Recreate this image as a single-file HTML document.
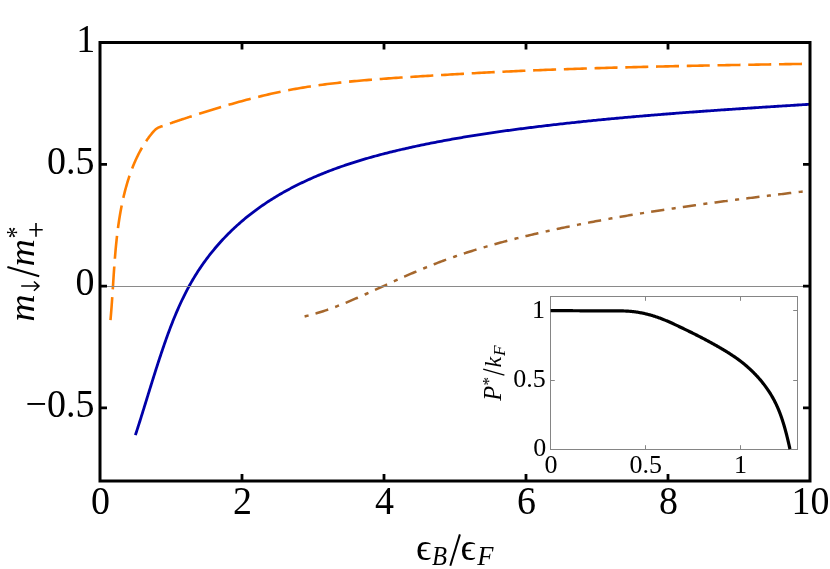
<!DOCTYPE html>
<html><head><meta charset="utf-8"><title>plot</title>
<style>html,body{margin:0;padding:0;background:#fff;}svg{display:block;will-change:transform;}</style>
</head><body>
<svg width="830" height="569" viewBox="0 0 830 569">
<rect width="830" height="569" fill="#fff"/>
<path d="M110.48,320.08 L110.57,319.10 L110.66,318.11 L110.74,317.13 L110.83,316.15 L110.91,315.16 L111.00,314.17 L111.08,313.18 L111.16,312.19 L111.24,311.20 L111.31,310.21 L111.39,309.22 L111.47,308.22 L111.54,307.23 L111.62,306.23 L111.69,305.23 L111.76,304.23 L111.83,303.23 L111.91,302.23 L111.98,301.23 L112.05,300.23 L112.11,299.23 L112.18,298.22 L112.25,297.22 L112.32,296.21 L112.39,295.21 L112.45,294.20 L112.52,293.19 L112.59,292.18 L112.65,291.17 L112.72,290.16 L112.78,289.15 L112.85,288.14 L112.91,287.13 L112.98,286.12 L113.04,285.10 L113.11,284.09 L113.17,283.07 L113.24,282.06 L113.30,281.04 L113.37,280.03 L113.44,279.01 L113.50,277.99 L113.57,276.98 L113.64,275.96 L113.70,274.94 L113.77,273.92 L113.84,272.90 L113.91,271.89 L113.98,270.87 L114.05,269.85 L114.12,268.83 L114.19,267.81 L114.26,266.79 L114.34,265.77 L114.41,264.74 L114.48,263.72 L114.56,262.70 L114.64,261.68 L114.71,260.66 L114.79,259.64 L114.87,258.62 L114.95,257.60 L115.04,256.57 L115.12,255.55 L115.20,254.53 L115.29,253.51 L115.38,252.49 L115.47,251.47 L115.56,250.45 L115.65,249.43 L115.74,248.40 L115.84,247.38 L115.93,246.36 L116.03,245.34 L116.13,244.32 L116.23,243.30 L116.34,242.28 L116.44,241.27 L116.55,240.25 L116.66,239.23 L116.77,238.21 L116.88,237.19 L116.99,236.17 L117.11,235.16 L117.23,234.14 L117.35,233.13 L117.48,232.11 L117.60,231.10 L117.73,230.08 L117.86,229.07 L117.99,228.05 L118.13,227.04 L118.26,226.03 L118.40,225.02 L118.55,224.01 L118.69,223.00 L118.84,221.99 L118.99,220.98 L119.14,219.97 L119.30,218.96 L119.46,217.96 L119.62,216.95 L119.79,215.95 L119.95,214.94 L120.12,213.94 L120.30,212.94 L120.47,211.93 L120.65,210.93 L120.84,209.93 L121.02,208.94 L121.21,207.94 L121.40,206.94 L121.60,205.95 L121.80,204.95 L122.00,203.96 L122.21,202.97 L122.42,201.97 L122.63,200.98 L122.85,200.00 L123.07,199.01 L123.29,198.02 L123.52,197.04 L123.75,196.05 L123.98,195.07 L124.22,194.09 L124.47,193.11 L124.71,192.13 L124.96,191.15 L125.22,190.17 L125.48,189.20 L125.74,188.23 L126.01,187.25 L126.28,186.28 L126.55,185.31 L126.83,184.35 L127.12,183.38 L127.40,182.42 L127.70,181.45 L127.99,180.49 L128.30,179.53 L128.60,178.57 L128.91,177.62 L129.23,176.66 L129.55,175.71 L129.87,174.76 L130.20,173.81 L130.53,172.86 L130.87,171.91 L131.22,170.97 L131.57,170.03 L131.92,169.09 L132.28,168.15 L132.65,167.21 L133.02,166.28 L133.39,165.35 L133.77,164.42 L134.16,163.50 L134.55,162.58 L134.95,161.66 L135.36,160.74 L135.77,159.83 L136.18,158.92 L136.61,158.01 L137.04,157.10 L137.47,156.20 L137.91,155.31 L138.36,154.41 L138.81,153.52 L139.28,152.63 L139.74,151.75 L140.22,150.87 L140.70,150.00 L141.19,149.12 L141.69,148.26 L142.19,147.39 L142.70,146.53 L143.22,145.68 L143.74,144.83 L144.27,143.98 L144.81,143.14 L145.36,142.30 L145.91,141.47 L146.48,140.64 L147.05,139.82 L147.62,139.00 L148.21,138.19 L148.81,137.38 L149.41,136.57 L150.02,135.78 L150.64,134.98 L151.27,134.20 L151.90,133.41 L152.55,132.64 L153.20,131.87 L153.86,131.10 L154.36,130.57 L154.88,130.07 L155.40,129.60 L155.93,129.16 L156.47,128.75 L157.03,128.37 L157.59,128.03 L158.16,127.71 L158.74,127.42 L159.34,127.17 L159.94,126.94 L161.05,126.55 L162.16,126.17 L163.28,125.78 L164.39,125.40 L165.50,125.02 L166.62,124.64 L167.73,124.25 L168.84,123.87 L169.95,123.49 L171.07,123.11 L172.18,122.73 L173.29,122.35 L174.41,121.98 L175.52,121.60 L176.63,121.22 L177.74,120.85 L178.86,120.47 L179.97,120.10 L181.08,119.73 L182.19,119.35 L183.31,118.98 L184.42,118.61 L185.53,118.24 L186.65,117.87 L187.76,117.51 L188.87,117.14 L189.98,116.78 L191.10,116.41 L192.21,116.05 L193.32,115.68 L194.44,115.32 L195.55,114.96 L196.66,114.60 L197.77,114.25 L198.89,113.89 L200.00,113.53 L202.45,112.75 L204.90,111.98 L207.35,111.21 L209.80,110.45 L212.25,109.69 L214.70,108.94 L217.15,108.20 L219.60,107.46 L222.05,106.73 L224.50,106.01 L226.95,105.29 L229.40,104.58 L231.85,103.88 L234.30,103.19 L236.75,102.50 L239.20,101.83 L241.65,101.16 L244.10,100.50 L246.55,99.85 L249.00,99.20 L251.45,98.57 L253.90,97.94 L256.35,97.33 L258.80,96.72 L261.24,96.12 L263.69,95.54 L266.14,94.96 L268.59,94.39 L271.04,93.84 L273.49,93.29 L275.94,92.76 L278.39,92.23 L280.84,91.72 L283.29,91.22 L285.74,90.73 L288.19,90.25 L290.64,89.79 L293.09,89.33 L295.54,88.89 L297.99,88.46 L300.44,88.04 L302.89,87.63 L305.34,87.23 L307.79,86.84 L310.24,86.46 L312.69,86.09 L315.14,85.73 L317.59,85.38 L320.04,85.05 L322.49,84.72 L324.94,84.39 L327.39,84.08 L329.84,83.78 L332.29,83.48 L334.74,83.20 L337.19,82.92 L339.64,82.64 L342.09,82.38 L344.54,82.12 L346.99,81.87 L349.44,81.63 L351.89,81.39 L354.34,81.16 L356.79,80.93 L359.24,80.71 L361.69,80.50 L364.14,80.29 L366.59,80.08 L369.04,79.88 L371.49,79.69 L373.94,79.49 L376.39,79.31 L378.84,79.12 L381.29,78.94 L383.73,78.76 L386.18,78.58 L388.63,78.40 L391.08,78.23 L393.53,78.06 L395.98,77.89 L398.43,77.73 L400.88,77.56 L403.33,77.40 L405.78,77.24 L408.23,77.08 L410.68,76.93 L413.13,76.77 L415.58,76.61 L418.03,76.46 L420.48,76.31 L422.93,76.16 L425.38,76.01 L427.83,75.86 L430.28,75.71 L432.73,75.56 L435.18,75.42 L437.63,75.27 L440.08,75.13 L442.53,74.98 L444.98,74.84 L447.43,74.70 L449.88,74.56 L452.33,74.42 L454.78,74.28 L457.23,74.14 L459.68,74.00 L462.13,73.86 L464.58,73.73 L467.03,73.59 L469.48,73.46 L471.93,73.32 L474.38,73.19 L476.83,73.06 L479.28,72.92 L481.73,72.79 L484.18,72.67 L486.63,72.54 L489.08,72.41 L491.53,72.29 L493.98,72.16 L496.43,72.04 L498.88,71.92 L501.33,71.80 L503.78,71.68 L506.22,71.56 L508.67,71.45 L511.12,71.33 L513.57,71.22 L516.02,71.11 L518.47,71.00 L520.92,70.89 L523.37,70.79 L525.82,70.68 L528.27,70.58 L530.72,70.48 L533.17,70.37 L535.62,70.27 L538.07,70.18 L540.52,70.08 L542.97,69.98 L545.42,69.89 L547.87,69.80 L550.32,69.70 L552.77,69.61 L555.22,69.52 L557.67,69.44 L560.12,69.35 L562.57,69.26 L565.02,69.18 L567.47,69.09 L569.92,69.01 L572.37,68.93 L574.82,68.85 L577.27,68.77 L579.72,68.69 L582.17,68.61 L584.62,68.53 L587.07,68.45 L589.52,68.38 L591.97,68.30 L594.42,68.23 L596.87,68.16 L599.32,68.08 L601.77,68.01 L604.22,67.94 L606.67,67.87 L609.12,67.80 L611.57,67.73 L614.02,67.66 L616.47,67.60 L618.92,67.53 L621.37,67.46 L623.82,67.40 L626.27,67.33 L628.71,67.27 L631.16,67.21 L633.61,67.14 L636.06,67.08 L638.51,67.02 L640.96,66.96 L643.41,66.90 L645.86,66.84 L648.31,66.78 L650.76,66.72 L653.21,66.66 L655.66,66.61 L658.11,66.55 L660.56,66.49 L663.01,66.44 L665.46,66.38 L667.91,66.33 L670.36,66.27 L672.81,66.22 L675.26,66.17 L677.71,66.11 L680.16,66.06 L682.61,66.01 L685.06,65.96 L687.51,65.91 L689.96,65.86 L692.41,65.81 L694.86,65.76 L697.31,65.71 L699.76,65.66 L702.21,65.61 L704.66,65.56 L707.11,65.52 L709.56,65.47 L712.01,65.42 L714.46,65.38 L716.91,65.33 L719.36,65.29 L721.81,65.24 L724.26,65.20 L726.71,65.15 L729.16,65.11 L731.61,65.06 L734.06,65.02 L736.51,64.98 L738.96,64.93 L741.41,64.89 L743.86,64.85 L746.31,64.81 L748.76,64.77 L751.20,64.72 L753.65,64.68 L756.10,64.64 L758.55,64.60 L761.00,64.56 L763.45,64.52 L765.90,64.48 L768.35,64.44 L770.80,64.40 L773.25,64.36 L775.70,64.32 L778.15,64.29 L780.60,64.25 L783.05,64.21 L785.50,64.17 L787.95,64.13 L790.40,64.09 L792.85,64.06 L795.30,64.02 L797.75,63.98 L800.20,63.94 L802.65,63.91 L805.10,63.87 L807.55,63.83 L810.00,63.80" fill="none" stroke="#FF7F00" stroke-width="2.6" stroke-linejoin="round" stroke-dasharray="23 7.74"/>
<path d="M135.40,435.09 L135.91,433.53 L136.42,431.96 L136.93,430.40 L137.43,428.83 L137.94,427.26 L138.44,425.68 L138.94,424.11 L139.44,422.53 L139.94,420.96 L140.44,419.38 L140.94,417.80 L141.43,416.21 L141.93,414.63 L142.42,413.05 L142.91,411.46 L143.41,409.88 L143.90,408.29 L144.39,406.70 L144.88,405.11 L145.37,403.52 L145.87,401.93 L146.36,400.34 L146.85,398.74 L147.34,397.15 L147.83,395.56 L148.32,393.96 L148.82,392.37 L149.31,390.77 L149.80,389.18 L150.30,387.58 L150.79,385.99 L151.29,384.39 L151.78,382.79 L152.28,381.20 L152.78,379.60 L153.28,378.00 L153.78,376.41 L154.28,374.81 L154.79,373.22 L155.29,371.62 L155.80,370.03 L156.31,368.43 L156.82,366.84 L157.33,365.24 L157.85,363.65 L158.37,362.06 L158.88,360.46 L159.41,358.87 L159.93,357.28 L160.46,355.69 L160.98,354.10 L161.51,352.52 L162.05,350.93 L162.59,349.34 L163.13,347.76 L163.67,346.18 L164.21,344.59 L164.76,343.01 L165.32,341.43 L165.87,339.86 L166.43,338.28 L167.00,336.71 L167.57,335.14 L168.14,333.57 L168.72,332.00 L169.30,330.44 L169.89,328.87 L170.48,327.31 L171.08,325.75 L171.68,324.20 L172.29,322.65 L172.90,321.10 L173.52,319.55 L174.15,318.01 L174.78,316.47 L175.42,314.93 L176.06,313.40 L176.71,311.87 L177.37,310.34 L178.04,308.82 L178.71,307.30 L179.39,305.79 L180.08,304.28 L180.77,302.77 L181.47,301.27 L182.18,299.77 L182.90,298.27 L183.63,296.79 L184.36,295.30 L185.11,293.82 L185.86,292.35 L186.62,290.87 L187.39,289.41 L188.17,287.95 L188.96,286.49 L189.76,285.04 L190.56,283.60 L191.38,282.16 L192.21,280.73 L193.04,279.30 L193.89,277.88 L194.74,276.46 L195.61,275.06 L196.49,273.65 L197.37,272.25 L198.27,270.86 L199.17,269.48 L200.09,268.10 L201.02,266.73 L201.96,265.37 L202.91,264.01 L203.86,262.66 L204.83,261.31 L205.81,259.97 L206.80,258.64 L207.80,257.32 L208.80,256.00 L209.82,254.69 L210.85,253.39 L211.89,252.10 L212.93,250.81 L213.99,249.53 L215.05,248.26 L216.13,246.99 L217.21,245.73 L218.30,244.48 L219.40,243.24 L220.51,242.00 L221.63,240.78 L222.76,239.56 L223.90,238.35 L225.04,237.14 L226.20,235.95 L227.36,234.76 L228.53,233.58 L229.71,232.41 L230.90,231.24 L232.10,230.09 L233.30,228.94 L234.52,227.80 L235.74,226.67 L236.96,225.55 L238.20,224.44 L239.45,223.33 L240.70,222.24 L241.96,221.15 L243.23,220.07 L244.50,219.00 L245.78,217.94 L247.07,216.89 L248.37,215.85 L249.68,214.82 L250.99,213.79 L252.31,212.78 L253.63,211.77 L254.96,210.77 L256.30,209.78 L257.65,208.81 L259.00,207.83 L260.36,206.87 L261.73,205.92 L263.10,204.98 L264.48,204.04 L265.86,203.11 L267.25,202.20 L268.65,201.29 L270.05,200.39 L271.46,199.49 L272.87,198.61 L274.29,197.73 L275.71,196.87 L277.14,196.01 L278.58,195.16 L280.02,194.31 L281.46,193.48 L282.91,192.65 L284.36,191.83 L285.82,191.02 L287.29,190.22 L288.76,189.43 L290.23,188.64 L291.71,187.86 L293.19,187.09 L294.67,186.33 L296.16,185.57 L297.65,184.82 L299.15,184.08 L300.65,183.35 L302.15,182.63 L303.66,181.91 L305.17,181.20 L306.69,180.49 L308.21,179.80 L309.73,179.11 L311.25,178.43 L312.78,177.76 L314.31,177.09 L315.84,176.43 L317.37,175.78 L318.91,175.13 L320.45,174.49 L321.99,173.86 L323.54,173.23 L325.08,172.62 L326.63,172.00 L328.18,171.40 L329.74,170.80 L331.29,170.21 L332.85,169.62 L334.41,169.05 L335.97,168.47 L337.53,167.91 L339.10,167.35 L340.67,166.79 L342.24,166.24 L343.81,165.70 L345.38,165.16 L346.96,164.63 L348.53,164.11 L350.11,163.59 L351.69,163.07 L353.27,162.56 L354.86,162.06 L356.44,161.56 L358.03,161.07 L359.62,160.58 L361.21,160.10 L362.80,159.62 L364.40,159.15 L365.99,158.69 L367.59,158.22 L369.18,157.77 L370.78,157.31 L372.38,156.86 L373.99,156.42 L375.59,155.98 L377.19,155.55 L378.80,155.12 L380.41,154.69 L382.01,154.27 L383.62,153.85 L385.23,153.44 L386.85,153.03 L388.46,152.62 L390.07,152.22 L391.69,151.82 L393.30,151.43 L394.92,151.03 L396.54,150.65 L398.15,150.26 L399.77,149.88 L401.39,149.51 L403.01,149.13 L404.64,148.76 L406.26,148.39 L407.88,148.03 L409.50,147.67 L411.13,147.31 L412.75,146.96 L414.38,146.60 L416.01,146.25 L417.63,145.91 L419.26,145.56 L420.89,145.22 L422.52,144.88 L424.14,144.55 L425.77,144.21 L427.40,143.88 L429.04,143.55 L430.67,143.23 L432.30,142.91 L433.93,142.59 L435.56,142.27 L437.20,141.95 L438.83,141.64 L440.47,141.33 L442.10,141.02 L443.74,140.72 L445.37,140.42 L447.01,140.12 L448.65,139.82 L450.28,139.52 L451.92,139.23 L453.56,138.94 L455.20,138.65 L456.84,138.37 L458.48,138.08 L460.12,137.80 L461.76,137.52 L463.40,137.24 L465.04,136.97 L466.68,136.70 L468.32,136.42 L469.97,136.16 L471.61,135.89 L473.25,135.63 L474.90,135.36 L476.54,135.10 L478.18,134.84 L479.83,134.59 L481.47,134.33 L483.12,134.08 L484.77,133.83 L486.41,133.58 L488.06,133.33 L489.70,133.09 L491.35,132.85 L493.00,132.60 L494.65,132.36 L496.29,132.13 L497.94,131.89 L499.59,131.65 L501.24,131.42 L502.89,131.19 L504.54,130.96 L506.19,130.73 L507.83,130.51 L509.48,130.28 L511.13,130.06 L512.78,129.84 L514.43,129.62 L516.09,129.40 L517.74,129.18 L519.39,128.96 L521.04,128.75 L522.69,128.53 L524.34,128.32 L525.99,128.11 L527.64,127.90 L529.30,127.69 L530.95,127.49 L532.60,127.28 L534.25,127.08 L535.90,126.88 L537.56,126.67 L539.21,126.47 L540.86,126.27 L542.51,126.07 L544.17,125.88 L545.82,125.68 L547.47,125.49 L549.13,125.29 L550.78,125.10 L552.43,124.91 L554.09,124.72 L555.74,124.53 L557.39,124.34 L559.05,124.15 L560.70,123.97 L562.35,123.78 L564.01,123.60 L565.66,123.42 L567.32,123.23 L568.97,123.05 L570.63,122.87 L572.28,122.69 L573.93,122.52 L575.59,122.34 L577.24,122.17 L578.90,121.99 L580.55,121.82 L582.21,121.64 L583.86,121.47 L585.52,121.30 L587.17,121.13 L588.83,120.96 L590.49,120.80 L592.14,120.63 L593.80,120.46 L595.45,120.30 L597.11,120.14 L598.76,119.97 L600.42,119.81 L602.08,119.65 L603.73,119.49 L605.39,119.33 L607.04,119.17 L608.70,119.01 L610.36,118.86 L612.01,118.70 L613.67,118.55 L615.33,118.39 L616.98,118.24 L618.64,118.09 L620.30,117.93 L621.95,117.78 L623.61,117.63 L625.27,117.48 L626.93,117.34 L628.58,117.19 L630.24,117.04 L631.90,116.90 L633.56,116.75 L635.21,116.61 L636.87,116.46 L638.53,116.32 L640.19,116.18 L641.84,116.04 L643.50,115.89 L645.16,115.75 L646.82,115.62 L648.48,115.48 L650.13,115.34 L651.79,115.20 L653.45,115.07 L655.11,114.93 L656.77,114.79 L658.42,114.66 L660.08,114.53 L661.74,114.39 L663.40,114.26 L665.06,114.13 L666.72,114.00 L668.38,113.87 L670.04,113.74 L671.69,113.61 L673.35,113.48 L675.01,113.35 L676.67,113.22 L678.33,113.10 L679.99,112.97 L681.65,112.84 L683.31,112.72 L684.97,112.59 L686.63,112.47 L688.29,112.35 L689.94,112.22 L691.60,112.10 L693.26,111.98 L694.92,111.86 L696.58,111.73 L698.24,111.61 L699.90,111.49 L701.56,111.37 L703.22,111.26 L704.88,111.14 L706.54,111.02 L708.20,110.90 L709.86,110.78 L711.52,110.67 L713.18,110.55 L714.84,110.43 L716.50,110.32 L718.16,110.20 L719.82,110.09 L721.48,109.97 L723.14,109.86 L724.80,109.75 L726.46,109.63 L728.12,109.52 L729.78,109.41 L731.44,109.30 L733.10,109.18 L734.76,109.07 L736.42,108.96 L738.08,108.85 L739.74,108.74 L741.41,108.63 L743.07,108.52 L744.73,108.41 L746.39,108.30 L748.05,108.19 L749.71,108.08 L751.37,107.98 L753.03,107.87 L754.69,107.76 L756.35,107.65 L758.01,107.55 L759.67,107.44 L761.33,107.33 L762.99,107.22 L764.65,107.12 L766.32,107.01 L767.98,106.91 L769.64,106.80 L771.30,106.69 L772.96,106.59 L774.62,106.48 L776.28,106.38 L777.94,106.27 L779.60,106.17 L781.26,106.06 L782.92,105.96 L784.59,105.85 L786.25,105.75 L787.91,105.65 L789.57,105.54 L791.23,105.44 L792.89,105.33 L794.55,105.23 L796.21,105.13 L797.87,105.02 L799.53,104.92 L801.20,104.82 L802.86,104.71 L804.52,104.61 L806.18,104.51 L807.84,104.40 L809.50,104.30" fill="none" stroke="#0000A8" stroke-width="2.8"/>
<path d="M304.60,316.42 L306.29,316.02 L307.98,315.61 L309.67,315.19 L311.36,314.74 L313.05,314.28 L314.74,313.81 L316.43,313.32 L318.12,312.81 L319.81,312.29 L321.50,311.75 L323.19,311.20 L324.88,310.64 L326.57,310.07 L328.26,309.48 L329.95,308.88 L331.64,308.27 L333.34,307.64 L335.03,307.01 L336.72,306.37 L338.41,305.71 L340.10,305.05 L341.79,304.38 L343.48,303.69 L345.17,303.00 L346.86,302.31 L348.55,301.60 L350.24,300.89 L351.93,300.17 L353.62,299.45 L355.31,298.72 L357.00,297.98 L358.69,297.24 L360.38,296.50 L362.07,295.75 L363.76,295.00 L365.45,294.24 L367.14,293.49 L368.83,292.73 L370.52,291.97 L372.21,291.20 L373.90,290.44 L375.59,289.67 L377.28,288.90 L378.97,288.14 L380.66,287.37 L382.35,286.60 L384.04,285.83 L385.73,285.06 L387.42,284.29 L389.12,283.53 L390.81,282.76 L392.50,281.99 L394.19,281.23 L395.88,280.47 L397.57,279.71 L399.26,278.95 L400.95,278.19 L402.64,277.44 L404.33,276.69 L406.02,275.94 L407.71,275.20 L409.40,274.46 L411.09,273.72 L412.78,272.99 L414.47,272.26 L416.16,271.54 L417.85,270.82 L419.54,270.11 L421.23,269.40 L422.92,268.70 L424.61,268.00 L426.30,267.31 L427.99,266.63 L429.68,265.95 L431.37,265.28 L433.06,264.61 L434.75,263.96 L436.44,263.30 L438.13,262.66 L439.82,262.02 L441.51,261.38 L443.20,260.76 L444.89,260.13 L446.59,259.52 L448.28,258.91 L449.97,258.30 L451.66,257.71 L453.35,257.11 L455.04,256.52 L456.73,255.94 L458.42,255.37 L460.11,254.80 L461.80,254.23 L463.49,253.67 L465.18,253.11 L466.87,252.56 L468.56,252.02 L470.25,251.48 L471.94,250.94 L473.63,250.41 L475.32,249.89 L477.01,249.37 L478.70,248.85 L480.39,248.34 L482.08,247.83 L483.77,247.33 L485.46,246.83 L487.15,246.34 L488.84,245.85 L490.53,245.36 L492.22,244.88 L493.91,244.41 L495.60,243.94 L497.29,243.47 L498.98,243.00 L500.67,242.54 L502.37,242.09 L504.06,241.63 L505.75,241.19 L507.44,240.74 L509.13,240.30 L510.82,239.86 L512.51,239.43 L514.20,239.00 L515.89,238.57 L517.58,238.14 L519.27,237.72 L520.96,237.31 L522.65,236.89 L524.34,236.48 L526.03,236.07 L527.72,235.67 L529.41,235.26 L531.10,234.86 L532.79,234.47 L534.48,234.07 L536.17,233.68 L537.86,233.29 L539.55,232.90 L541.24,232.52 L542.93,232.14 L544.62,231.76 L546.31,231.38 L548.00,231.01 L549.69,230.64 L551.38,230.26 L553.07,229.90 L554.76,229.53 L556.45,229.17 L558.15,228.80 L559.84,228.45 L561.53,228.09 L563.22,227.73 L564.91,227.38 L566.60,227.03 L568.29,226.68 L569.98,226.33 L571.67,225.99 L573.36,225.64 L575.05,225.30 L576.74,224.96 L578.43,224.62 L580.12,224.29 L581.81,223.95 L583.50,223.62 L585.19,223.29 L586.88,222.97 L588.57,222.64 L590.26,222.31 L591.95,221.99 L593.64,221.67 L595.33,221.35 L597.02,221.04 L598.71,220.72 L600.40,220.41 L602.09,220.10 L603.78,219.79 L605.47,219.48 L607.16,219.17 L608.85,218.87 L610.54,218.56 L612.23,218.26 L613.93,217.96 L615.62,217.67 L617.31,217.37 L619.00,217.07 L620.69,216.78 L622.38,216.49 L624.07,216.20 L625.76,215.91 L627.45,215.62 L629.14,215.34 L630.83,215.05 L632.52,214.77 L634.21,214.49 L635.90,214.21 L637.59,213.93 L639.28,213.66 L640.97,213.38 L642.66,213.11 L644.35,212.84 L646.04,212.56 L647.73,212.29 L649.42,212.03 L651.11,211.76 L652.80,211.49 L654.49,211.23 L656.18,210.97 L657.87,210.71 L659.56,210.44 L661.25,210.19 L662.94,209.93 L664.63,209.67 L666.32,209.42 L668.01,209.16 L669.71,208.91 L671.40,208.66 L673.09,208.41 L674.78,208.16 L676.47,207.91 L678.16,207.66 L679.85,207.41 L681.54,207.17 L683.23,206.92 L684.92,206.68 L686.61,206.44 L688.30,206.20 L689.99,205.96 L691.68,205.72 L693.37,205.48 L695.06,205.25 L696.75,205.01 L698.44,204.77 L700.13,204.54 L701.82,204.31 L703.51,204.07 L705.20,203.84 L706.89,203.61 L708.58,203.38 L710.27,203.15 L711.96,202.93 L713.65,202.70 L715.34,202.47 L717.03,202.25 L718.72,202.02 L720.41,201.80 L722.10,201.58 L723.79,201.35 L725.48,201.13 L727.18,200.91 L728.87,200.69 L730.56,200.47 L732.25,200.25 L733.94,200.03 L735.63,199.81 L737.32,199.60 L739.01,199.38 L740.70,199.16 L742.39,198.95 L744.08,198.73 L745.77,198.52 L747.46,198.31 L749.15,198.09 L750.84,197.88 L752.53,197.67 L754.22,197.46 L755.91,197.24 L757.60,197.03 L759.29,196.82 L760.98,196.61 L762.67,196.40 L764.36,196.19 L766.05,195.99 L767.74,195.78 L769.43,195.57 L771.12,195.36 L772.81,195.15 L774.50,194.95 L776.19,194.74 L777.88,194.53 L779.57,194.33 L781.26,194.12 L782.96,193.91 L784.65,193.71 L786.34,193.50 L788.03,193.30 L789.72,193.09 L791.41,192.89 L793.10,192.68 L794.79,192.48 L796.48,192.28 L798.17,192.07 L799.86,191.87 L801.55,191.66 L803.24,191.46 L804.93,191.25 L806.62,191.05 L808.31,190.85 L810.00,190.64" fill="none" stroke="#A5672D" stroke-width="2.5" stroke-dasharray="4.1 7.2 13.3 7.42"/>
<line x1="100.0" y1="286.5" x2="810.0" y2="286.5" stroke="#8a8a8a" stroke-width="1"/>
<rect x="100.0" y="42.5" width="710.0" height="438.5" fill="none" stroke="#000" stroke-width="3"/>
<path d="M242.00,481.0 v-7.0 M242.00,42.5 v7.0 M384.00,481.0 v-7.0 M384.00,42.5 v7.0 M526.00,481.0 v-7.0 M526.00,42.5 v7.0 M668.00,481.0 v-7.0 M668.00,42.5 v7.0 M100.0,164.31 h7.0 M810.0,164.31 h-7.0 M100.0,286.11 h7.0 M810.0,286.11 h-7.0 M100.0,407.92 h7.0 M810.0,407.92 h-7.0" stroke="#000" stroke-width="2.8" fill="none"/>
<g font-family="'Liberation Serif', serif" font-size="38" fill="#000">
<text x="100.40" y="513.7" text-anchor="middle" transform="translate(0,513.7) scale(1,1.035) translate(0,-513.7)">0</text>
<text x="242.40" y="513.7" text-anchor="middle" transform="translate(0,513.7) scale(1,1.035) translate(0,-513.7)">2</text>
<text x="384.40" y="513.7" text-anchor="middle" transform="translate(0,513.7) scale(1,1.035) translate(0,-513.7)">4</text>
<text x="526.40" y="513.7" text-anchor="middle" transform="translate(0,513.7) scale(1,1.035) translate(0,-513.7)">6</text>
<text x="668.40" y="513.7" text-anchor="middle" transform="translate(0,513.7) scale(1,1.035) translate(0,-513.7)">8</text>
<text x="810.40" y="513.7" text-anchor="middle" transform="translate(0,513.7) scale(1,1.035) translate(0,-513.7)">10</text>
<text x="95.3" y="51.80" text-anchor="end" transform="translate(0,51.80) scale(1,1.035) translate(0,-51.80)">1</text>
<text x="94.5" y="173.61" text-anchor="end" transform="translate(0,173.61) scale(1,1.035) translate(0,-173.61)">0.5</text>
<text x="94.5" y="295.41" text-anchor="end" transform="translate(0,295.41) scale(1,1.035) translate(0,-295.41)">0</text>
<text x="94.5" y="417.22" text-anchor="end" transform="translate(0,417.22) scale(1,1.035) translate(0,-417.22)">−0.5</text>
</g>
<rect x="550.5" y="296.5" width="247.0" height="153.0" fill="#fff" stroke="#858585" stroke-width="1"/>
<path d="M645.50,449.5 v-4.3 M645.50,296.5 v4.3 M740.50,449.5 v-4.3 M740.50,296.5 v4.3 M550.5,380.50 h4.3 M797.5,380.50 h-4.3 M550.5,310.50 h4.3 M797.5,310.50 h-4.3" stroke="#858585" stroke-width="1" fill="none"/>
<path d="M550.64,310.70 L551.25,310.69 L551.85,310.69 L552.46,310.69 L553.06,310.68 L553.67,310.68 L554.27,310.68 L554.88,310.68 L555.49,310.67 L556.09,310.67 L556.70,310.67 L557.31,310.67 L557.91,310.67 L558.52,310.67 L559.13,310.67 L559.74,310.67 L560.34,310.67 L560.95,310.67 L561.56,310.67 L562.17,310.67 L562.78,310.67 L563.39,310.68 L564.00,310.68 L564.61,310.68 L565.22,310.68 L565.83,310.68 L566.44,310.69 L567.05,310.69 L567.66,310.69 L568.27,310.70 L568.88,310.70 L569.49,310.70 L570.10,310.71 L570.71,310.71 L571.33,310.71 L571.94,310.72 L572.55,310.72 L573.16,310.73 L573.77,310.73 L574.39,310.73 L575.00,310.74 L575.61,310.74 L576.22,310.75 L576.84,310.75 L577.45,310.76 L578.06,310.76 L578.68,310.77 L579.29,310.77 L579.90,310.78 L580.52,310.78 L581.13,310.79 L581.74,310.79 L582.36,310.80 L582.97,310.80 L583.58,310.81 L584.20,310.81 L584.81,310.81 L585.43,310.82 L586.04,310.82 L586.65,310.83 L587.27,310.83 L587.88,310.84 L588.50,310.84 L589.11,310.85 L589.73,310.85 L590.34,310.85 L590.95,310.86 L591.57,310.86 L592.18,310.87 L592.80,310.87 L593.41,310.87 L594.03,310.88 L594.64,310.88 L595.25,310.88 L595.87,310.89 L596.48,310.89 L597.10,310.89 L597.71,310.89 L598.33,310.90 L598.94,310.90 L599.55,310.90 L600.17,310.90 L600.78,310.90 L601.40,310.90 L602.01,310.91 L602.62,310.91 L603.24,310.91 L603.85,310.91 L604.47,310.91 L605.08,310.91 L605.69,310.91 L606.31,310.90 L606.92,310.90 L607.53,310.90 L608.14,310.90 L608.76,310.90 L609.37,310.90 L609.98,310.89 L610.60,310.89 L611.21,310.89 L611.82,310.88 L612.43,310.88 L613.04,310.88 L613.66,310.87 L614.27,310.87 L614.88,310.87 L615.49,310.87 L616.10,310.87 L616.71,310.87 L617.32,310.87 L617.93,310.87 L618.55,310.87 L619.16,310.88 L619.77,310.88 L620.38,310.89 L620.99,310.90 L621.60,310.91 L622.20,310.92 L622.81,310.94 L623.42,310.96 L624.03,310.98 L624.64,311.00 L625.25,311.02 L625.86,311.05 L626.46,311.08 L627.07,311.11 L627.68,311.15 L628.29,311.18 L628.89,311.23 L629.50,311.27 L630.11,311.32 L630.71,311.37 L631.32,311.43 L631.92,311.49 L632.53,311.55 L633.13,311.62 L633.74,311.69 L634.34,311.76 L634.94,311.84 L635.55,311.92 L636.15,312.01 L636.75,312.09 L637.36,312.19 L637.96,312.28 L638.56,312.38 L639.16,312.48 L639.76,312.59 L640.36,312.70 L640.96,312.81 L641.56,312.93 L642.16,313.05 L642.76,313.17 L643.35,313.30 L643.95,313.43 L644.55,313.56 L645.14,313.70 L645.74,313.84 L646.33,313.98 L646.93,314.13 L647.52,314.28 L648.11,314.43 L648.70,314.59 L649.29,314.75 L649.88,314.91 L650.47,315.07 L651.06,315.24 L651.65,315.41 L652.24,315.59 L652.83,315.76 L653.41,315.94 L654.00,316.13 L654.58,316.31 L655.16,316.50 L655.75,316.69 L656.33,316.89 L656.91,317.08 L657.49,317.28 L658.07,317.49 L658.65,317.69 L659.22,317.90 L659.80,318.11 L660.37,318.33 L660.95,318.54 L661.52,318.76 L662.09,318.98 L662.67,319.21 L663.24,319.43 L663.81,319.66 L664.38,319.89 L664.94,320.12 L665.51,320.36 L666.08,320.60 L666.64,320.84 L667.21,321.08 L667.77,321.32 L668.33,321.56 L668.90,321.81 L669.46,322.06 L670.02,322.31 L670.58,322.56 L671.14,322.81 L671.70,323.06 L672.26,323.31 L672.81,323.57 L673.37,323.83 L673.93,324.08 L674.48,324.34 L675.04,324.60 L675.59,324.86 L676.15,325.12 L676.70,325.38 L677.25,325.64 L677.81,325.90 L678.36,326.17 L678.91,326.43 L679.46,326.69 L680.01,326.96 L680.56,327.22 L681.11,327.48 L681.66,327.75 L682.21,328.01 L682.76,328.27 L683.30,328.54 L683.85,328.80 L684.40,329.07 L684.95,329.33 L685.49,329.59 L686.04,329.86 L686.59,330.13 L687.13,330.39 L687.68,330.66 L688.22,330.92 L688.77,331.19 L689.31,331.46 L689.86,331.73 L690.40,331.99 L690.95,332.26 L691.49,332.53 L692.03,332.80 L692.58,333.07 L693.12,333.34 L693.66,333.62 L694.21,333.89 L694.75,334.16 L695.29,334.43 L695.84,334.71 L696.38,334.98 L696.92,335.26 L697.47,335.53 L698.01,335.81 L698.55,336.09 L699.10,336.37 L699.64,336.65 L700.18,336.93 L700.73,337.21 L701.27,337.49 L701.82,337.77 L702.36,338.06 L702.90,338.34 L703.45,338.62 L703.99,338.91 L704.53,339.20 L705.08,339.48 L705.62,339.77 L706.16,340.06 L706.71,340.35 L707.25,340.64 L707.79,340.93 L708.33,341.23 L708.88,341.52 L709.42,341.81 L709.96,342.11 L710.50,342.40 L711.04,342.70 L711.58,343.00 L712.12,343.29 L712.66,343.59 L713.20,343.89 L713.74,344.19 L714.28,344.49 L714.81,344.79 L715.35,345.10 L715.89,345.40 L716.42,345.70 L716.96,346.01 L717.49,346.31 L718.03,346.62 L718.56,346.92 L719.10,347.23 L719.63,347.54 L720.16,347.85 L720.69,348.16 L721.22,348.47 L721.75,348.78 L722.28,349.09 L722.80,349.40 L723.33,349.72 L723.86,350.03 L724.38,350.34 L724.91,350.66 L725.43,350.98 L725.95,351.30 L726.47,351.62 L726.99,351.94 L727.51,352.26 L728.03,352.58 L728.55,352.91 L729.06,353.23 L729.58,353.56 L730.09,353.89 L730.60,354.22 L731.12,354.55 L731.63,354.88 L732.14,355.22 L732.64,355.56 L733.15,355.89 L733.66,356.24 L734.16,356.58 L734.66,356.92 L735.16,357.27 L735.66,357.61 L736.16,357.96 L736.66,358.31 L737.15,358.67 L737.65,359.02 L738.14,359.38 L738.63,359.74 L739.12,360.10 L739.61,360.47 L740.10,360.83 L740.58,361.20 L741.06,361.58 L741.55,361.95 L742.03,362.32 L742.51,362.70 L742.98,363.08 L743.46,363.47 L743.93,363.85 L744.40,364.24 L744.87,364.63 L745.34,365.02 L745.81,365.42 L746.27,365.81 L746.73,366.21 L747.19,366.61 L747.65,367.02 L748.11,367.42 L748.57,367.83 L749.02,368.24 L749.47,368.65 L749.92,369.06 L750.37,369.48 L750.81,369.90 L751.26,370.32 L751.70,370.74 L752.14,371.17 L752.58,371.60 L753.01,372.03 L753.45,372.46 L753.88,372.89 L754.31,373.33 L754.73,373.76 L755.16,374.20 L755.58,374.65 L756.00,375.09 L756.42,375.54 L756.84,375.98 L757.25,376.43 L757.66,376.89 L758.07,377.34 L758.48,377.80 L758.88,378.26 L759.29,378.72 L759.69,379.18 L760.09,379.64 L760.48,380.11 L760.87,380.58 L761.26,381.05 L761.65,381.52 L762.04,382.00 L762.42,382.47 L762.80,382.95 L763.18,383.43 L763.56,383.91 L763.93,384.40 L764.30,384.88 L764.67,385.37 L765.04,385.86 L765.40,386.35 L765.76,386.84 L766.12,387.34 L766.47,387.84 L766.83,388.34 L767.18,388.84 L767.52,389.34 L767.87,389.84 L768.21,390.35 L768.55,390.86 L768.89,391.37 L769.22,391.88 L769.55,392.39 L769.88,392.91 L770.20,393.43 L770.53,393.95 L770.85,394.47 L771.16,394.99 L771.48,395.51 L771.79,396.04 L772.10,396.57 L772.40,397.10 L772.70,397.63 L773.00,398.16 L773.30,398.69 L773.59,399.23 L773.88,399.77 L774.17,400.31 L774.45,400.85 L774.73,401.39 L775.01,401.94 L775.28,402.48 L775.56,403.03 L775.82,403.58 L776.09,404.13 L776.35,404.68 L776.61,405.24 L776.86,405.79 L777.12,406.35 L777.37,406.91 L777.61,407.47 L777.86,408.03 L778.10,408.59 L778.34,409.16 L778.57,409.72 L778.81,410.29 L779.04,410.86 L779.26,411.43 L779.49,412.00 L779.71,412.57 L779.93,413.14 L780.15,413.71 L780.36,414.29 L780.57,414.86 L780.78,415.44 L780.99,416.02 L781.20,416.60 L781.40,417.18 L781.60,417.76 L781.80,418.34 L781.99,418.92 L782.19,419.51 L782.38,420.09 L782.57,420.68 L782.76,421.26 L782.94,421.85 L783.13,422.43 L783.31,423.02 L783.49,423.61 L783.67,424.20 L783.85,424.79 L784.02,425.38 L784.19,425.97 L784.37,426.56 L784.54,427.15 L784.71,427.74 L784.87,428.33 L785.04,428.93 L785.20,429.52 L785.36,430.11 L785.53,430.70 L785.69,431.30 L785.84,431.89 L786.00,432.48 L786.16,433.08 L786.31,433.67 L786.47,434.27 L786.62,434.86 L786.77,435.45 L786.92,436.05 L787.07,436.64 L787.21,437.24 L787.36,437.83 L787.50,438.42 L787.65,439.02 L787.79,439.61 L787.93,440.20 L788.07,440.80 L788.21,441.39 L788.35,441.98 L788.49,442.57 L788.63,443.16 L788.76,443.75 L788.90,444.35 L789.03,444.94 L789.16,445.53 L789.29,446.11 L789.42,446.70 L789.55,447.29 L789.68,447.88 L789.81,448.47 L789.94,449.05" fill="none" stroke="#000" stroke-width="3.2"/>
<g font-family="'Liberation Serif', serif" font-size="26" fill="#000">
<text x="551.00" y="473.2" text-anchor="middle">0</text>
<text x="645.75" y="473.2" text-anchor="middle">0.5</text>
<text x="740.50" y="473.2" text-anchor="middle">1</text>
<text x="546.2" y="456.40" text-anchor="end">0</text>
<text x="545.8" y="387.00" text-anchor="end">0.5</text>
<text x="545.0" y="317.60" text-anchor="end">1</text>
</g>
<g fill="#000" font-family="'Liberation Serif', serif">
<text x="416.1" y="559.6" font-size="38">ϵ</text>
<text x="432" y="565.2" font-size="26.5" font-style="italic" transform="translate(432,0) scale(0.93,1) translate(-432,0)">B</text>
<line x1="450.3" y1="565.8" x2="459.9" y2="534.4" stroke="#000" stroke-width="2"/>
<text x="460.5" y="559.6" font-size="38">ϵ</text>
<text x="477.3" y="565.2" font-size="26.5" font-style="italic">F</text>
</g>
<g transform="translate(33.8,321.8) rotate(-90)" fill="#000" font-family="'Liberation Serif', serif">
<text x="0" y="0" font-size="38" font-style="italic" transform="scale(1,0.94)">m</text>
<path d="M35.7,-12.6 V4.9 M31,0.1 L35.7,5.2 L40.3,0.1" stroke="#000" stroke-width="1.5" fill="none"/>
<line x1="45.5" y1="5.4" x2="54.8" y2="-26.4" stroke="#000" stroke-width="2"/>
<text x="55.3" y="0" font-size="38" font-style="italic" transform="scale(1,0.94)">m</text>
<text x="83.1" y="-8.6" font-size="25" transform="translate(89.4,0) scale(0.92,1.06) translate(-89.4,0)">*</text>
<path d="M85.1,2.2 H98.9 M92.05,-4.5 V8.9" stroke="#000" stroke-width="1.6" fill="none"/>
</g>
<g transform="translate(500.8,400.8) rotate(-90)" fill="#000" font-family="'Liberation Serif', serif">
<text x="0" y="0" font-size="24.5" font-style="italic">P</text>
<text x="15.3" y="-6.9" font-size="17">*</text>
<line x1="25.6" y1="3.6" x2="31.7" y2="-17.6" stroke="#000" stroke-width="1.4"/>
<text x="33.2" y="0" font-size="24" font-style="italic">k</text>
<text x="44.9" y="3.8" font-size="17.5" font-style="italic">F</text>
</g>
</svg>
</body></html>
